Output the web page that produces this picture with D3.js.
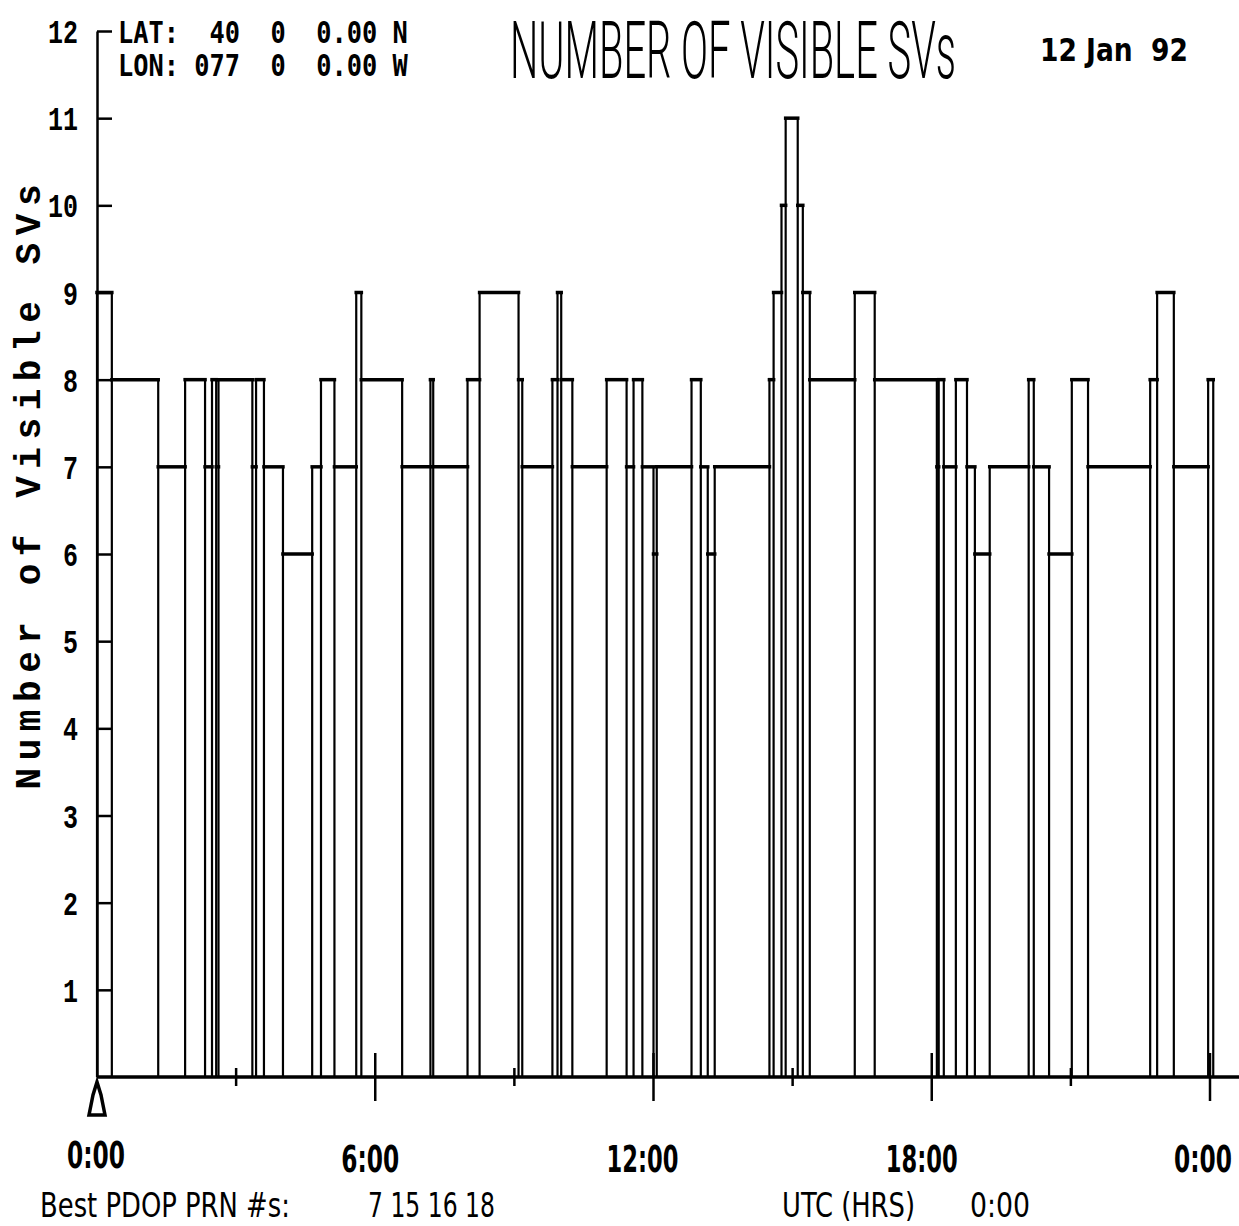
<!DOCTYPE html>
<html>
<head>
<meta charset="utf-8">
<script src="https://cdn.jsdelivr.net/npm/d3@7"></script>
<style>
  html, body { margin: 0; padding: 0; background: #fff; }
  svg { display: block; }
  text { white-space: pre; }
</style>
</head>
<body>
<svg id="chart" width="1239" height="1226"></svg>
<script>
// ---- data ----
// segment boundaries in UTC hours
const hourBreaks = [0, 0.32, 1.32, 1.90, 2.33, 2.48, 2.57, 2.62, 3.35, 3.43, 3.60, 4.01, 4.64, 4.83, 5.12, 5.59, 5.70,
  6.58, 7.19, 7.25, 7.99, 8.25, 9.09, 9.17, 9.82, 9.93, 10.01, 10.25, 10.99, 11.42, 11.57, 11.76, 12.00, 12.07,
  12.82, 13.02, 13.17, 13.32, 14.50, 14.59, 14.76, 14.85, 15.11, 15.22, 15.37, 16.34, 16.77, 18.11, 18.15, 18.26,
  18.52, 18.76, 18.93, 19.25, 20.09, 20.20, 20.53, 21.02, 21.37, 22.71, 22.86, 23.22, 23.96, 24.07];
// number of visible SVs in each segment
const svCounts = [9, 8, 7, 8, 7, 8, 7, 8, 7, 8, 7, 6, 7, 8, 7, 9,
  8, 7, 8, 7, 8, 9, 8, 7, 8, 9, 8, 7, 8, 7, 8, 7, 6,
  7, 8, 7, 6, 7, 8, 9, 10, 11, 10, 9, 8, 9, 8, 7, 8,
  7, 8, 7, 6, 7, 8, 7, 6, 8, 7, 8, 9, 7, 8];

const yTickValues = [1, 2, 3, 4, 5, 6, 7, 8, 9, 10, 11, 12];
const yTickLabels = ["1", "2", "3", "4", "5", "6", "7", "8", "9", "10", "11", "12"];
const xMajorHours = [0, 6, 12, 18, 24];
const xMajorLabels = ["0:00", "6:00", "12:00", "18:00", "0:00"];
const xMinorHours = [3, 9, 15, 21];

const titleText = "NUMBER OF VISIBLE SVs";
const latText = "LAT:  40  0  0.00 N";
const lonText = "LON: 077  0  0.00 W";
const dateText = "12 Jan  92";
const yTitleText = "Number of Visible SVs";
const pdopLabel = "Best PDOP PRN #s:";
const pdopPrns = "7 15 16 18";
const utcLabel = "UTC (HRS)";
const utcValue = "0:00";

// ---- scales ----
const x = d3.scaleLinear().domain([0, 24]).range([97, 1210]);
const y = d3.scaleLinear().domain([0, 12]).range([1077, 31]);

const svg = d3.select("#chart");
const ink = "#000";

// place a text so that it spans a given width by horizontal scaling
function fitText(str, px, py, w, anchor, font, weight, size) {
  const t = svg.append("text")
    .attr("x", 0).attr("y", 0)
    .attr("text-anchor", anchor)
    .attr("font-family", font)
    .attr("font-weight", weight)
    .attr("font-size", size)
    .attr("fill", ink)
    .text(str);
  const len = t.node().getComputedTextLength() || w;
  const k = w / len;
  t.attr("transform", `translate(${px},${py}) scale(${k},1)`);
  return t;
}

// ---- bars (step outlines down to baseline) ----
const segs = svCounts.map((c, i) => ({ t0: hourBreaks[i], t1: hourBreaks[i + 1], c }));
const edges = hourBreaks.map((t, i) => ({
  t,
  h: Math.max(i > 0 ? svCounts[i - 1] : 0, i < svCounts.length ? svCounts[i] : 0)
}));

svg.append("g").selectAll("line").data(edges).join("line")
  .attr("x1", d => x(d.t)).attr("x2", d => x(d.t))
  .attr("y1", y(0)).attr("y2", d => y(d.h))
  .attr("stroke", ink).attr("stroke-width", 2.2);

svg.append("g").selectAll("line").data(segs).join("line")
  .attr("x1", d => x(d.t0)).attr("x2", d => x(d.t1))
  .attr("y1", d => y(d.c)).attr("y2", d => y(d.c))
  .attr("stroke", ink).attr("stroke-width", 3.5).attr("stroke-linecap", "square");

// ---- y axis ----
const yAxis = d3.axisRight(y).tickValues(yTickValues).tickSize(15).tickSizeOuter(0).tickFormat("");
const gy = svg.append("g").attr("transform", `translate(${x(0)},0)`).call(yAxis);
gy.select(".domain").attr("stroke", ink).attr("stroke-width", 2.5);
gy.selectAll(".tick line").attr("stroke", ink).attr("stroke-width", 2.5);

const monoFont = "Liberation Mono, DejaVu Sans Mono, monospace";
yTickValues.forEach((v, i) => {
  fitText(yTickLabels[i], 78, y(v) + 12, yTickLabels[i].length * 15, "end", monoFont, "bold", 34);
});

// ---- x axis ----
svg.append("line")
  .attr("x1", x(0)).attr("x2", 1239).attr("y1", y(0)).attr("y2", y(0))
  .attr("stroke", ink).attr("stroke-width", 3.5);

svg.append("g").selectAll("line").data(xMajorHours.slice(1)).join("line")
  .attr("x1", d => x(d)).attr("x2", d => x(d))
  .attr("y1", y(0) - 24).attr("y2", y(0) + 24)
  .attr("stroke", ink).attr("stroke-width", 2.5);

svg.append("g").selectAll("line").data(xMinorHours).join("line")
  .attr("x1", d => x(d)).attr("x2", d => x(d))
  .attr("y1", y(0) - 9).attr("y2", y(0) + 9)
  .attr("stroke", ink).attr("stroke-width", 2.5);

// start marker triangle at 0:00
const x0 = x(0), b = y(0);
svg.append("path")
  .attr("d", `M${x0},${b + 5} L${x0 - 4},${b + 18} L${x0 - 6},${b + 28} L${x0 - 8},${b + 38} L${x0 + 8},${b + 38} L${x0 + 6},${b + 28} L${x0 + 4},${b + 18} Z`)
  .attr("fill", "#fff").attr("stroke", ink).attr("stroke-width", 3.5).attr("stroke-linejoin", "miter");

const narrowFont = "Liberation Sans Narrow, DejaVu Sans Condensed, sans-serif";
const labelOffsets = [-1, -5, -11, -10, -7];
xMajorHours.forEach((h, i) => {
  fitText(xMajorLabels[i], x(h) + labelOffsets[i], i === 0 ? 1168 : 1172,
    xMajorLabels[i].length === 4 ? 58 : 72, "middle", narrowFont, "bold", 38);
});

// ---- texts ----
fitText(titleText, 510, 78, 446, "start", "Roboto, Liberation Sans Narrow, sans-serif", 300, 80);

const sansMono = "DejaVu Sans Mono, monospace";
fitText(latText, 118, 43, 290, "start", sansMono, "bold", 31);
fitText(lonText, 118, 76, 290, "start", sansMono, "bold", 31);

fitText(dateText, 1040, 61, 148, "start", narrowFont, "bold", 32);

svg.append("text")
  .attr("transform", "translate(40,487) rotate(-90)")
  .attr("text-anchor", "middle")
  .attr("font-family", monoFont)
  .attr("font-weight", "bold").attr("font-size", 36)
  .attr("textLength", 605).attr("lengthAdjust", "spacing")
  .text(yTitleText);

[[pdopLabel, 40, 250], [pdopPrns, 368, 127], [utcLabel, 782, 133], [utcValue, 970, 60]].forEach(([t, xx, w]) => {
  fitText(t, xx, 1217, w, "start", narrowFont, "normal", 34);
});
</script>
</body>
</html>
